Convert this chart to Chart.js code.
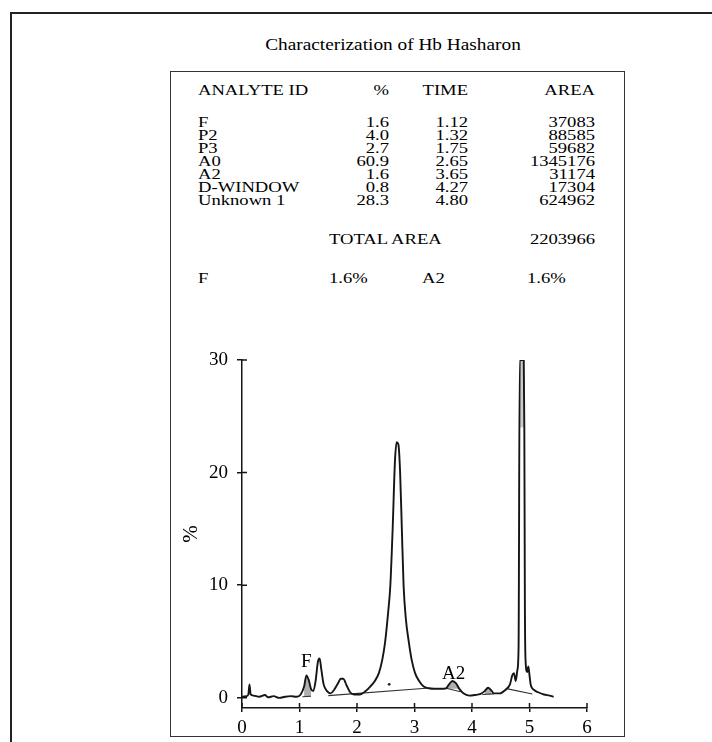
<!DOCTYPE html>
<html>
<head>
<meta charset="utf-8">
<script src="https://cdn.jsdelivr.net/npm/chart.js@4.4.1/dist/chart.umd.min.js"></script>
<style>
  html, body { margin: 0; padding: 0; background: #fff; }
  body { width: 712px; height: 742px; overflow: hidden; position: relative;
         font-family: "Liberation Serif", "DejaVu Serif", serif; color: #000; }
  #frame { position: absolute; left: 10px; top: 12px; width: 740px; height: 760px;
           border-left: 2px solid #222; border-top: 2px solid #222; }
  #panel { position: absolute; left: 170px; top: 71px; width: 455px; height: 666px;
           box-sizing: border-box; border: 1.5px solid #333; }
  #title { position: absolute; left: 193px; width: 400px; top: 35px; text-align: center;
           font-size: 16.5px; line-height: 19px; transform: scaleX(1.17); }
  .cell { position: absolute; font-size: 15.5px; line-height: 19px; white-space: nowrap;
          transform: scaleX(1.2); transform-origin: left center; }
  .r { text-align: right; transform-origin: right center; }
  #chart { position: absolute; left: 172px; top: 325px; }
</style>
</head>
<body>
<div id="frame"></div>
<div id="panel"></div>
<div id="title">Characterization of Hb Hasharon</div>
<div id="table"></div>
<canvas id="chart" width="450" height="410"></canvas>
<script>
// table values
const analyteIds = ['F', 'P2', 'P3', 'A0', 'A2', 'D-WINDOW', 'Unknown 1'];
const analytePct = ['1.6', '4.0', '2.7', '60.9', '1.6', '0.8', '28.3'];
const analyteTime = ['1.12', '1.32', '1.75', '2.65', '3.65', '4.27', '4.80'];
const analyteArea = ['37083', '88585', '59682', '1345176', '31174', '17304', '624962'];
const totalArea = '2203966';
const summary = ['F', '1.6%', 'A2', '1.6%'];

// chromatogram trace (time in min, %)
const traceTime = [0.00, 0.08, 0.11, 0.13, 0.15, 0.20, 0.30, 0.40, 0.45, 0.55, 0.65, 0.75, 0.85, 0.95,
  1.02, 1.08, 1.12, 1.16, 1.20, 1.24, 1.28, 1.32, 1.35, 1.38, 1.42, 1.48, 1.54, 1.60, 1.66, 1.72,
  1.76, 1.82, 1.88, 1.95, 2.05, 2.15, 2.23, 2.31, 2.38, 2.44, 2.49, 2.54, 2.58, 2.62, 2.66, 2.69,
  2.72, 2.75, 2.78, 2.81, 2.85, 2.90, 2.95, 3.01, 3.08, 3.16, 3.25, 3.35, 3.45, 3.55, 3.60, 3.66,
  3.72, 3.78, 3.85, 3.95, 4.05, 4.15, 4.22, 4.28, 4.33, 4.38, 4.48, 4.58, 4.66, 4.70, 4.73, 4.76,
  4.79, 4.81, 4.83, 4.90, 4.91, 4.92, 4.93, 4.96, 4.98, 5.00, 5.02, 5.08, 5.15, 5.25, 5.35, 5.42];
const tracePct = [0.1, 0.15, 0.3, 1.2, 0.3, 0.2, 0.1, 0.25, 0.05, 0.15, 0.0, 0.1, 0.15, 0.1,
  0.3, 1.0, 2.0, 1.6, 0.8, 0.6, 1.5, 3.2, 3.5, 2.5, 1.2, 0.6, 0.4, 0.7, 1.2, 1.7,
  1.7, 1.1, 0.5, 0.3, 0.3, 0.6, 1.0, 1.5, 2.2, 3.4, 5.0, 7.5, 10.0, 15.0, 21.0, 22.7,
  22.5, 20.0, 15.0, 10.0, 7.0, 5.0, 3.4, 2.2, 1.5, 1.0, 0.85, 0.8, 0.8, 0.85, 1.2, 1.5,
  1.3, 0.8, 0.4, 0.2, 0.25, 0.35, 0.6, 0.9, 0.7, 0.4, 0.4, 0.7, 1.2, 2.0, 2.2, 1.5,
  2.5, 4.5, 30, 30, 24, 8, 3.5, 2.3, 2.8, 2.0, 1.2, 0.7, 0.5, 0.3, 0.2, 0.1];

// integration baselines (null = break)
const baseTime = [1.05, 1.20, 1.21, 1.50, 3.20, 3.55, 3.80, 3.81, 4.18, 4.38, 4.39, 4.62, 5.05];
const basePct = [0.1, 0.15, null, 0.2, 0.85, 0.85, 0.55, null, 0.3, 0.35, null, 0.8, 0.35];

const dotTime = [2.56];
const dotPct = [1.2];

const peakLabelText = ['F', 'A2'];
const peakLabelTime = [1.12, 3.68];
const peakLabelPct = [3.15, 2.13];

const xTicks = [0, 1, 2, 3, 4, 5, 6];
const yTicks = [0, 10, 20, 30];

// ---- table ----
const table = document.getElementById('table');
function cell(text, x, baseline, right) {
  const d = document.createElement('div');
  d.className = 'cell' + (right ? ' r' : '');
  d.textContent = text;
  d.style.top = (baseline - 14.7) + 'px';
  if (right) { d.style.left = (x - 200) + 'px'; d.style.width = '200px'; }
  else d.style.left = x + 'px';
  table.appendChild(d);
}
cell('ANALYTE ID', 198, 95);
cell('%', 389, 95, true);
cell('TIME', 468, 95, true);
cell('AREA', 595, 95, true);
analyteIds.forEach((id, i) => {
  const b = 127 + i * 13;
  cell(id, 198, b);
  cell(analytePct[i], 389, b, true);
  cell(analyteTime[i], 468, b, true);
  cell(analyteArea[i], 595, b, true);
});
cell('TOTAL AREA', 329, 244);
cell(totalArea, 595, 244, true);
cell(summary[0], 198, 283);
cell(summary[1], 329, 283);
cell(summary[2], 422, 283);
cell(summary[3], 527, 283);

// ---- chart ----
const pts = (xs, ys) => xs.map((x, i) => ({ x: x, y: ys[i] }));
const trace = pts(traceTime, tracePct);
const inRange = (a, b) => trace.filter(p => p.x >= a && p.x <= b);

const serif = '"Liberation Serif", serif';
const ink = '#151515';

const crossTicks = {
  id: 'crossTicks',
  afterDatasetsDraw(chart) {
    const { ctx, chartArea, scales: { x, y } } = chart;
    ctx.save();
    ctx.strokeStyle = ink;
    ctx.lineWidth = 1.5;
    ctx.beginPath();
    y.ticks.forEach(t => {
      const py = y.getPixelForValue(t.value);
      ctx.moveTo(chartArea.left, py);
      ctx.lineTo(chartArea.left + 5, py);
    });
    x.ticks.forEach(t => {
      const px = x.getPixelForValue(t.value);
      ctx.moveTo(px, chartArea.bottom);
      ctx.lineTo(px, chartArea.bottom - 5);
    });
    ctx.stroke();
    ctx.fillStyle = '#000';
    ctx.font = '19px ' + serif;
    ctx.textAlign = 'center';
    ctx.textBaseline = 'middle';
    peakLabelText.forEach((s, i) => {
      ctx.fillText(s, x.getPixelForValue(peakLabelTime[i]), y.getPixelForValue(peakLabelPct[i]));
    });
    ctx.restore();
  }
};

const shade = (data, level, colour) => ({
  data: data, showLine: true, pointRadius: 0, borderWidth: 0,
  backgroundColor: colour || 'rgba(110,110,110,0.55)', fill: { value: level },
  cubicInterpolationMode: 'monotone'
});

new Chart(document.getElementById('chart'), {
  type: 'scatter',
  data: {
    datasets: [
      {
        data: trace, showLine: true, borderColor: ink, borderWidth: 1.9,
        pointRadius: 0, cubicInterpolationMode: 'monotone', fill: false
      },
      {
        data: pts(baseTime, basePct), showLine: true, borderColor: '#333',
        borderWidth: 1.1, pointRadius: 0, spanGaps: false
      },
      shade(inRange(1.06, 1.2), 0.12),
      shade(inRange(3.55, 3.78), 0.8),
      shade(inRange(4.22, 4.36), 0.32),
      shade(inRange(4.83, 4.91), 24, 'rgba(140,140,140,0.45)'),
      { data: pts(dotTime, dotPct), pointRadius: 1.4, backgroundColor: '#222', borderWidth: 0 }
    ]
  },
  options: {
    responsive: false,
    animation: false,
    layout: { padding: { top: 35, left: 0, right: 35, bottom: 0 } },
    plugins: { legend: { display: false }, tooltip: { enabled: false } },
    scales: {
      x: {
        type: 'linear', min: 0, max: 6,
        afterBuildTicks: s => { s.ticks = xTicks.map(v => ({ value: v })); },
        afterFit: s => { s.height = 27; },
        ticks: { color: '#000', font: { family: serif, size: 19 }, padding: 5 },
        grid: { drawOnChartArea: false, tickLength: 4, color: ink, lineWidth: 1.5 },
        border: { color: ink, width: 1.5 }
      },
      y: {
        type: 'linear', min: -0.9, max: 30,
        afterBuildTicks: s => { s.ticks = yTicks.map(v => ({ value: v })); },
        afterFit: s => { s.width = 70; },
        ticks: { color: '#000', font: { family: serif, size: 19 }, padding: 9 },
        grid: { drawOnChartArea: false, tickLength: 5, color: ink, lineWidth: 1.5 },
        border: { color: ink, width: 1.5 },
        title: { display: true, text: '%', color: '#000', font: { family: serif, size: 21 }, padding: { top: 7 } }
      }
    }
  },
  plugins: [crossTicks]
});
</script>
</body>
</html>
